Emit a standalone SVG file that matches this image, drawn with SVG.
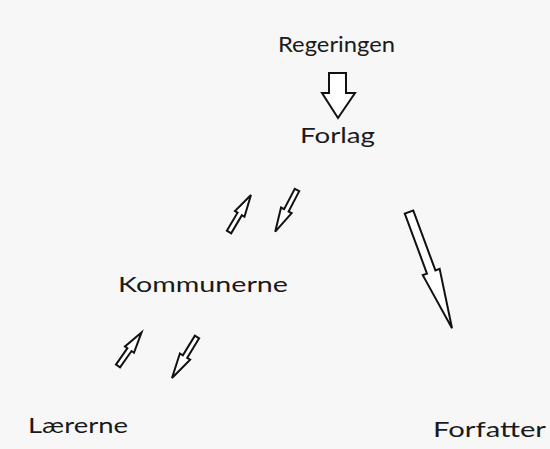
<svg xmlns="http://www.w3.org/2000/svg" width="550" height="449" viewBox="0 0 550 449">
<style>
text{font-family:Lato,"Liberation Sans",sans-serif;font-size:22px;fill:#1a1a1a}
.a{fill:#ffffff;stroke:#111;stroke-width:2;stroke-linejoin:miter}
</style>
<rect width="550" height="449" fill="#f7f7f7"/>
<g id="regeringen"><text x="278" y="52" textLength="117" lengthAdjust="spacingAndGlyphs">Regeringen</text></g>
<g id="forlag"><text x="300" y="143" textLength="75" lengthAdjust="spacingAndGlyphs">Forlag</text></g>
<g id="kommunerne"><text x="118" y="292" textLength="170" lengthAdjust="spacingAndGlyphs">Kommunerne</text></g>
<g id="laererne"><text x="28" y="433" textLength="100" lengthAdjust="spacingAndGlyphs">Lærerne</text></g>
<g id="forfatter"><text x="433" y="437" textLength="113" lengthAdjust="spacingAndGlyphs">Forfatter</text></g>
<g id="connectors">
<path class="a" d="M329,73 H346 V93 H355 L338,118 L322,93 H329 Z"/>
<path class="a" transform="translate(229,232) rotate(-59.3)" d="M0,-2.5 H21 V-5.5 L43,0 L21,5.5 V2.5 H0 Z"/>
<path class="a" transform="translate(297,190) rotate(117.6)" d="M0,-2.5 H23 V-6 L47,0 L23,6 V2.5 H0 Z"/>
<path class="a" transform="translate(118,366) rotate(-55)" d="M0,-2.5 H20 V-5.5 L41,0 L20,5.5 V2.5 H0 Z"/>
<path class="a" transform="translate(197,337) rotate(121.4)" d="M0,-2.5 H23 V-6 L48,0 L23,6 V2.5 H0 Z"/>
<path class="a" transform="translate(409,212) rotate(69.7)" d="M0,-4.5 H64 V-9 L124,0 L64,9 V4.5 H0 Z"/>
</g>
</svg>
